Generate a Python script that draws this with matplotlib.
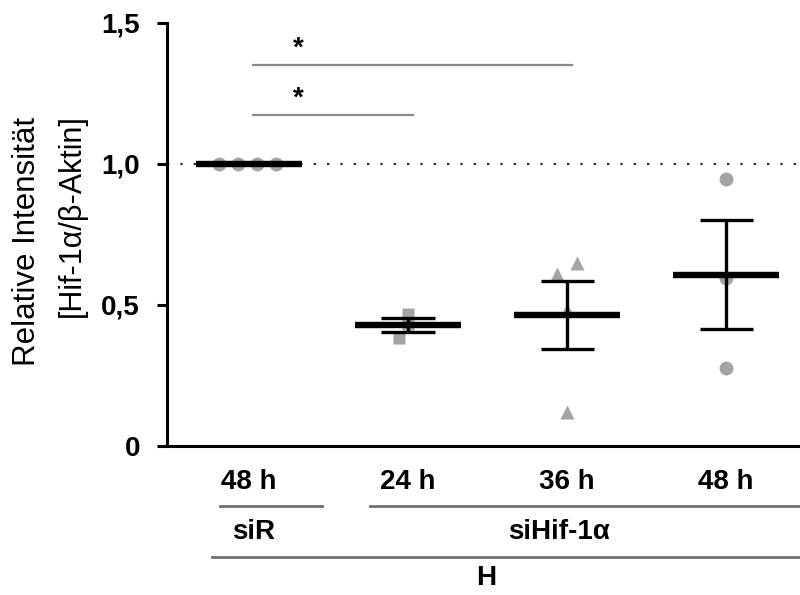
import numpy as np
import matplotlib.pyplot as plt
from matplotlib.transforms import blended_transform_factory

plt.rcParams['font.family'] = ['Liberation Sans', 'DejaVu Sans']

# relative intensity per group (Hif-1a normalised to beta-actin)
time_labels = ['48 h', '24 h', '36 h', '48 h']
sir_48h = [1.0, 1.0, 1.0, 1.0]
sihif_24h = [0.468, 0.383, 0.433]
sihif_36h = [0.610, 0.649, 0.121, 0.484]
sihif_48h = [0.947, 0.596, 0.277]
values = [sir_48h, sihif_24h, sihif_36h, sihif_48h]
yticks = [0, 0.5, 1.0, 1.5]
ytick_labels = ['0', '0,5', '1,0', '1,5']
sig_pairs = [(0, 2), (0, 1)]

markers = ['o', 's', '^', 'o']
msizes = [10, 9, 9.5, 10]
jitter = [[-0.19, -0.07, 0.05, 0.17], [0.0, -0.06, 0.0], [-0.063, 0.063, 0.0, 0.0], [0.0, 0.0, 0.0]]
gray = '#a3a3a8'

fig = plt.figure(figsize=(8, 5.95), dpi=100)
ax = fig.add_axes([0.20875, 0.2504, 0.79125, 0.711])
x = np.arange(len(values))

ax.axhline(1.0, ls=(0, (1, 5)), lw=1.6, color='#222222', zorder=1)

for i, vals in enumerate(values):
    v = np.array(vals)
    ax.plot(x[i] + np.array(jitter[i]), v, ls='none', marker=markers[i],
            ms=msizes[i], color=gray, mec='none', zorder=2)
    m = v.mean()
    sem = v.std(ddof=1) / np.sqrt(len(v))
    ax.hlines(m, x[i] - 0.335, x[i] + 0.335, color='black', lw=4.6, zorder=4)
    if sem > 0:
        ax.vlines(x[i], m - sem, m + sem, color='black', lw=2.4, zorder=3)
        ax.hlines([m - sem, m + sem], x[i] - 0.167, x[i] + 0.167, color='black', lw=2.4, zorder=3)

# significance bars
sig_y = [1.351, 1.174]
for (a, b), yy in zip(sig_pairs, sig_y):
    ax.plot([a + 0.025, b + 0.03], [yy, yy], color='#8a8a8a', lw=1.6, clip_on=False)
    ax.text(a + 0.31, yy + 0.012, '*', ha='center', va='bottom', fontsize=20,
            fontweight='bold', clip_on=False)

ax.set_xlim(-0.516, 3.465)
ax.set_ylim(0, 1.5)
ax.set_xticks([])
ax.set_yticks(yticks)
ax.set_yticklabels(ytick_labels, fontsize=20, fontweight='bold')
ax.tick_params(axis='y', length=7.5, width=2.2, pad=12)
for s in ['top', 'right']:
    ax.spines[s].set_visible(False)
for s in ['left', 'bottom']:
    ax.spines[s].set_linewidth(2.2)

# group labels under the axis
tr = blended_transform_factory(ax.transData, fig.transFigure)
for i, lab in enumerate(time_labels):
    ax.text(x[i], 0.190, lab, transform=tr, ha='center', va='center',
            fontsize=20, fontweight='bold')
line_kw = dict(transform=tr, color='#707070', lw=2, clip_on=False)
ax.plot([-0.18, 0.46], [0.1496, 0.1496], **line_kw)
ax.plot([0.76, 3.465], [0.1496, 0.1496], **line_kw)
ax.text(0.03, 0.106, 'siR', transform=tr, ha='center', va='center', fontsize=20, fontweight='bold')
ax.text(1.95, 0.106, 'siHif-1α', transform=tr, ha='center', va='center', fontsize=20, fontweight='bold')
ax.plot([-0.23, 3.465], [0.0639, 0.0639], **line_kw)
ax.text(1.49, 0.0286, 'H', transform=tr, ha='center', va='center', fontsize=20, fontweight='bold')

fig.text(0.034, 0.595, 'Relative Intensität', rotation=90, ha='center', va='center', fontsize=22.5)
fig.text(0.090, 0.637, '[Hif-1α/β-Aktin]', rotation=90, ha='center', va='center', fontsize=22)

fig.savefig('out.png', dpi=100)
